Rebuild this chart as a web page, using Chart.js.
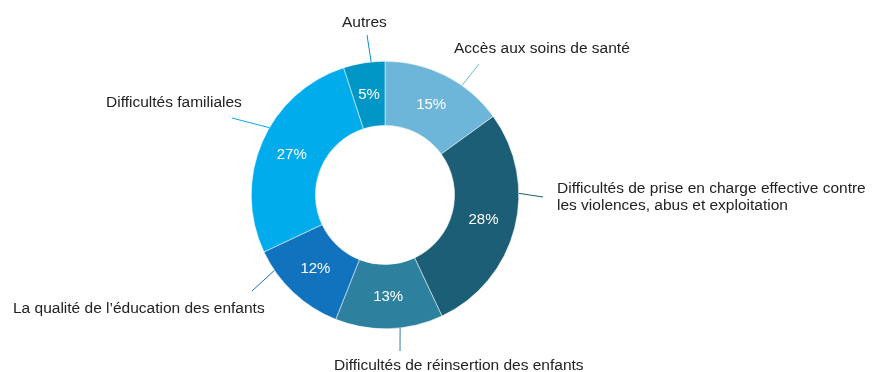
<!DOCTYPE html>
<html lang="fr">
<head>
<meta charset="utf-8">
<title>Difficultés rencontrées</title>
<script src="https://cdn.jsdelivr.net/npm/chart.js@4.4.0/dist/chart.umd.min.js"></script>
<style>
  html, body { margin: 0; padding: 0; background: #ffffff; }
  #wrap { width: 872px; height: 372px; position: relative; }
</style>
</head>
<body>
<div id="wrap"><canvas id="chart"></canvas></div>
<script>
// Catégories et parts (%)
const categories = [
  "Accès aux soins de santé",
  "Difficultés de prise en charge effective contre les violences, abus et exploitation",
  "Difficultés de réinsertion des enfants",
  "La qualité de l’éducation des enfants",
  "Difficultés familiales",
  "Autres"
];
const shares = [15, 28, 13, 12, 27, 5];
const sliceColors = ["#6db6d9", "#1b5e75", "#2e809f", "#1172be", "#00acec", "#0096c6"];

// Étiquettes externes : lignes de texte, point d'ancrage sur l'arc (fraction),
// extrémité du trait de rappel et position du texte.
const calloutLayout = [
  { lines: ["Accès aux soins de santé"], frac: 0.65, end: [479, 64], text: [454, 53] },
  { lines: ["Difficultés de prise en charge effective contre", "les violences, abus et exploitation"], frac: 0.35, end: [543, 197], text: [557, 193] },
  { lines: ["Difficultés de réinsertion des enfants"], frac: 0.40, end: [400, 351], text: [334, 370] },
  { lines: ["La qualité de l’éducation des enfants"], frac: 0.79, end: [252, 291], text: [13, 313] },
  { lines: ["Difficultés familiales"], frac: 0.57, end: [232, 118], text: [106, 107] },
  { lines: ["Autres"], frac: 0.67, end: [367, 35], text: [342, 27] }
];

const FONT = '"Liberation Sans", Arial, sans-serif';

const calloutPlugin = {
  id: 'callouts',
  afterDatasetsDraw(chart) {
    const ctx = chart.ctx;
    const meta = chart.getDatasetMeta(0);
    const values = chart.data.datasets[0].data;
    ctx.save();
    meta.data.forEach((arc, i) => {
      const p = arc.getProps(['x', 'y', 'startAngle', 'endAngle', 'outerRadius'], true);
      const lay = calloutLayout[i];
      // trait de rappel depuis le bord extérieur de la part
      const a = p.startAngle + (p.endAngle - p.startAngle) * lay.frac;
      const sx = p.x + Math.cos(a) * p.outerRadius;
      const sy = p.y + Math.sin(a) * p.outerRadius;
      ctx.strokeStyle = sliceColors[i];
      ctx.lineWidth = 1;
      ctx.beginPath();
      ctx.moveTo(sx, sy);
      ctx.lineTo(lay.end[0], lay.end[1]);
      ctx.stroke();
      // libellé
      ctx.fillStyle = '#222222';
      ctx.font = '15.5px ' + FONT;
      ctx.textAlign = 'left';
      ctx.textBaseline = 'alphabetic';
      lay.lines.forEach((t, k) => ctx.fillText(t, lay.text[0], lay.text[1] + k * 17));
      // pourcentage dans la part
      const c = arc.tooltipPosition();
      ctx.fillStyle = '#ffffff';
      ctx.font = '15px ' + FONT;
      ctx.textAlign = 'center';
      ctx.textBaseline = 'middle';
      ctx.fillText(values[i] + '%', c.x, c.y);
    });
    ctx.restore();
  }
};

new Chart(document.getElementById('chart'), {
  type: 'doughnut',
  data: {
    labels: categories,
    datasets: [{
      data: shares,
      backgroundColor: sliceColors,
      borderColor: '#ffffff',
      borderWidth: 0.5,
      hoverOffset: 0
    }]
  },
  options: {
    responsive: true,
    maintainAspectRatio: false,
    animation: false,
    cutout: '52%',
    layout: { padding: { top: 61, bottom: 43, left: 251, right: 353 } },
    plugins: {
      legend: { display: false },
      tooltip: { enabled: false }
    }
  },
  plugins: [calloutPlugin]
});
</script>
</body>
</html>
